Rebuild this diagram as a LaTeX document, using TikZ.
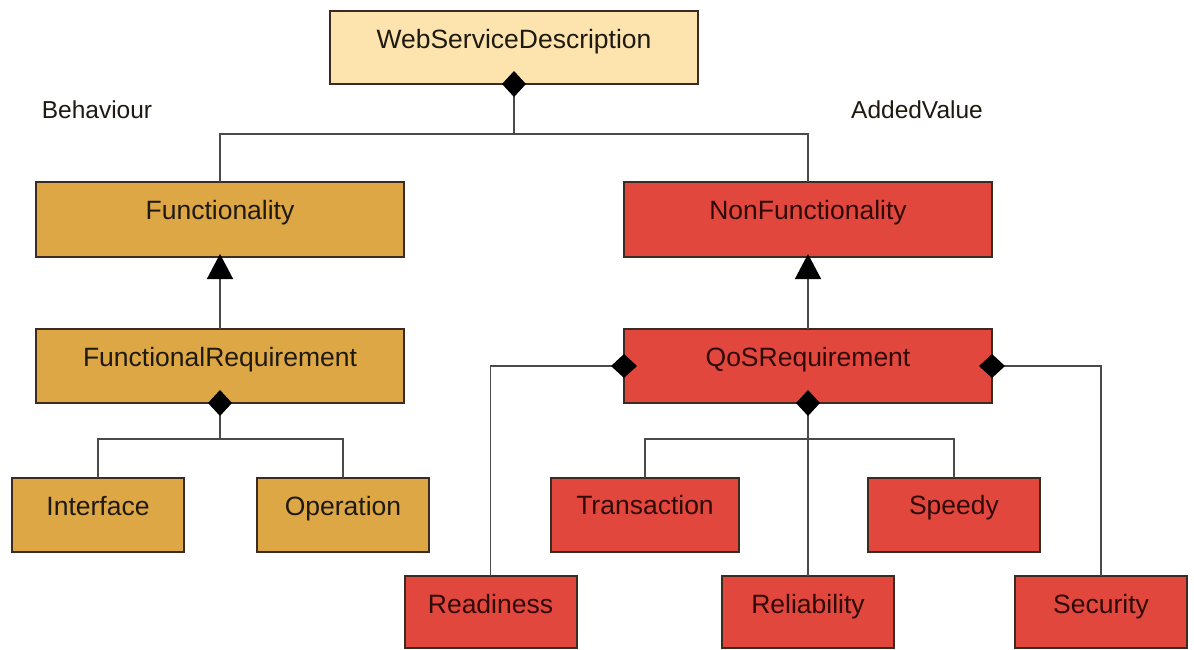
\documentclass[tikz,border=0pt]{standalone}
\usepackage{fontspec}
\setmainfont{Liberation Sans}
\usetikzlibrary{arrows.meta}

\definecolor{creamfill}{HTML}{FDE4AE}
\definecolor{amberfill}{HTML}{DEA745}
\definecolor{redfill}{HTML}{E2473D}
\definecolor{boxline}{HTML}{3B2B20}
\definecolor{darktext}{HTML}{1E1A12}
\definecolor{redtext}{HTML}{2E0A08}
\definecolor{linkgray}{HTML}{4A4A4A}

\tikzset{
  box/.style={draw=boxline, line width=2pt, inner sep=0pt, outer sep=0pt,
    minimum height=74pt, text height=37pt, text depth=37pt,
    font=\fontsize{26.5}{30}\selectfont, text=darktext},
  wide/.style={minimum width=368pt},
  narrow/.style={minimum width=172pt},
  lowrow/.style={minimum height=72pt, text depth=35pt},
  cream/.style={box, fill=creamfill},
  amber/.style={box, fill=amberfill},
  redbox/.style={box, fill=redfill, text=redtext},
  caption/.style={font=\fontsize{24.5}{28}\selectfont, text=darktext, inner sep=0pt},
  link/.style={draw=linkgray, line width=1.6pt},
  comp/.style={link, -{Diamond[length=26pt, width=24pt, black]}, shorten >=-13pt},
  gen/.style={link, -{Triangle[length=25pt, width=26pt, black]}, shorten >=-3pt},
}

\begin{document}
\begin{tikzpicture}[x=1pt, y=-1pt]
  \fill[white] (0,0) rectangle (1194,649);
  \useasboundingbox (0,0) rectangle (1194,649);

  % classes
  \node[cream, wide, minimum height=73pt, text depth=36pt] (wsd) at (514,47.5) {WebServiceDescription};
  \node[amber, wide, minimum height=75pt, text depth=38pt] (func) at (220,219.5) {Functionality};
  \node[redbox, wide, minimum height=75pt, text depth=38pt] (nonfunc) at (808,219.5) {NonFunctionality};
  \node[amber, wide] (funcreq) at (220,366) {FunctionalRequirement};
  \node[redbox, wide] (qos) at (808,366) {QoSRequirement};
  \node[amber, narrow] (interface) at (98,515) {Interface};
  \node[amber, narrow] (operation) at (343,515) {Operation};
  \node[redbox, narrow, minimum width=188pt] (transaction) at (645,514.5) {Transaction};
  \node[redbox, narrow] (speedy) at (954,514.5) {Speedy};
  \node[redbox, narrow, lowrow] (readiness) at (490.5,612) {Readiness};
  \node[redbox, narrow, lowrow] (reliability) at (808,612) {Reliability};
  \node[redbox, narrow, lowrow] (security) at (1101,612) {Security};

  % role captions
  \node[caption] (behaviour) at (97,110) {Behaviour};
  \node[caption] (addedvalue) at (917,110) {AddedValue};

  % composition of the description
  \coordinate (jw) at (514,134);
  \draw[link] (func.north) |- (jw) -| (nonfunc.north);
  \draw[comp] (jw) -- (wsd.south);

  % generalisations
  \draw[gen] (funcreq.north) -- (func.south);
  \draw[gen] (qos.north) -- (nonfunc.south);

  % parts of the functional requirement
  \coordinate (jf) at (220,439);
  \draw[link] (interface.north) |- (jf) -| (operation.north);
  \draw[comp] (jf) -- (funcreq.south);

  % parts of the QoS requirement
  \coordinate (jq) at (808,439);
  \draw[link] (transaction.north) |- (jq) -| (speedy.north);
  \draw[comp] (reliability.north) -- (qos.south);
  \draw[comp] (readiness.north) |- (qos.west);
  \draw[comp] (security.north) |- (qos.east);
\end{tikzpicture}
\end{document}
